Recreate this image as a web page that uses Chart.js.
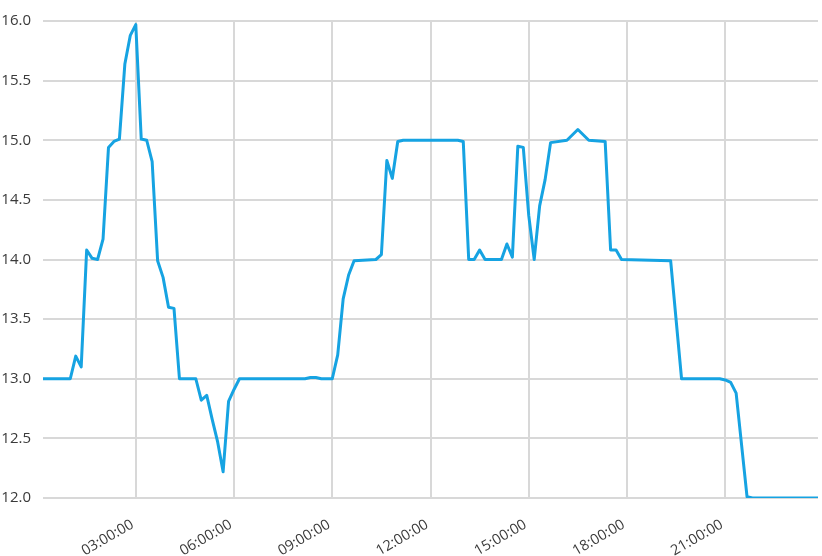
<!DOCTYPE html>
<html>
<head>
<meta charset="utf-8">
<script src="https://cdn.jsdelivr.net/npm/chart.js@4/dist/chart.umd.min.js"></script>
<style>
  html, body { margin: 0; padding: 0; background: #fff; }
  #wrap { width: 822px; height: 556px; }
</style>
</head>
<body>
<div id="wrap"><canvas id="c" width="822" height="556"></canvas></div>
<script>
// Sample times (HH:MM) at the line's vertices, and the readings at those times
const times = [
  "00:10","01:00","01:10","01:20","01:30","01:40","01:50","02:00","02:10","02:20",
  "02:30","02:40","02:50","03:00","03:10","03:20","03:30","03:40","03:50","04:00",
  "04:10","04:20","04:50","05:00","05:10","05:20","05:30","05:40","05:50","06:00",
  "06:10","08:10","08:20","08:30","08:40","09:00","09:10","09:20","09:30","09:40",
  "10:20","10:30","10:40","10:50","11:00","11:10","12:50","13:00","13:10","13:20",
  "13:30","13:40","14:10","14:20","14:30","14:40","14:50","15:00","15:10","15:20",
  "15:30","15:40","16:10","16:30","16:50","17:20","17:30","17:40","17:50","19:20",
  "19:40","20:50","21:00","21:10","21:20","21:40","21:50","23:50"
];
const values = [
  13.00,13.00,13.19,13.10,14.08,14.01,14.00,14.17,14.94,14.99,
  15.01,15.64,15.88,15.97,15.01,15.00,14.82,13.99,13.85,13.60,
  13.59,13.00,13.00,12.82,12.86,12.66,12.47,12.22,12.81,12.91,
  13.00,13.00,13.01,13.01,13.00,13.00,13.20,13.67,13.87,13.99,
  14.00,14.04,14.83,14.68,14.99,15.00,15.00,14.99,14.00,14.00,
  14.08,14.00,14.00,14.13,14.02,14.95,14.94,14.37,14.00,14.45,
  14.67,14.98,15.00,15.09,15.00,14.99,14.08,14.08,14.00,13.99,
  13.00,13.00,12.99,12.97,12.88,12.01,12.00,12.00
];
const xTickHours = [3, 6, 9, 12, 15, 18, 21];
const yTickValues = [12.0, 12.5, 13.0, 13.5, 14.0, 14.5, 15.0, 15.5, 16.0];
const xRange = ["00:10", "23:50"];

function toHours(s) { const p = s.split(":"); return +p[0] + (+p[1]) / 60; }
function pad(n) { return (n < 10 ? "0" : "") + n; }

const points = times.map((t, i) => ({ x: toHours(t), y: values[i] }));
const FAMILY = "'Open Sans', 'Noto Sans', sans-serif";

new Chart(document.getElementById("c"), {
  type: "line",
  data: {
    datasets: [{
      data: points,
      borderColor: "#16a3e2",
      borderWidth: 3,
      pointRadius: 0,
      tension: 0,
      fill: false,
      borderJoinStyle: "round"
    }]
  },
  options: {
    responsive: false,
    animation: false,
    layout: { padding: { top: 15, right: 4, left: 0, bottom: 0 } },
    plugins: { legend: { display: false }, tooltip: { enabled: false } },
    scales: {
      x: {
        type: "linear",
        min: toHours(xRange[0]),
        max: toHours(xRange[1]),
        afterBuildTicks: (s) => { s.ticks = xTickHours.map(v => ({ value: v })); },
        afterFit: (s) => { s.height = 58; },
        border: { display: false },
        grid: { color: "#d8d8d8", lineWidth: 2, drawTicks: false },
        ticks: {
          color: "#3a3a3a",
          font: { family: FAMILY, size: 14.5 },
          padding: 16,
          minRotation: 30,
          maxRotation: 30,
          autoSkip: false,
          callback: (v) => pad(v) + ":00:00 "
        }
      },
      y: {
        min: 12,
        max: 16,
        afterBuildTicks: (s) => { s.ticks = yTickValues.map(v => ({ value: v })); },
        afterFit: (s) => { s.width = 43; },
        border: { display: false },
        grid: { color: "#d8d8d8", lineWidth: 2, drawTicks: false },
        ticks: {
          color: "#3a3a3a",
          font: { family: FAMILY, size: 15 },
          padding: 12,
          callback: (v) => Number(v).toFixed(1)
        }
      }
    }
  }
});
</script>
</body>
</html>
